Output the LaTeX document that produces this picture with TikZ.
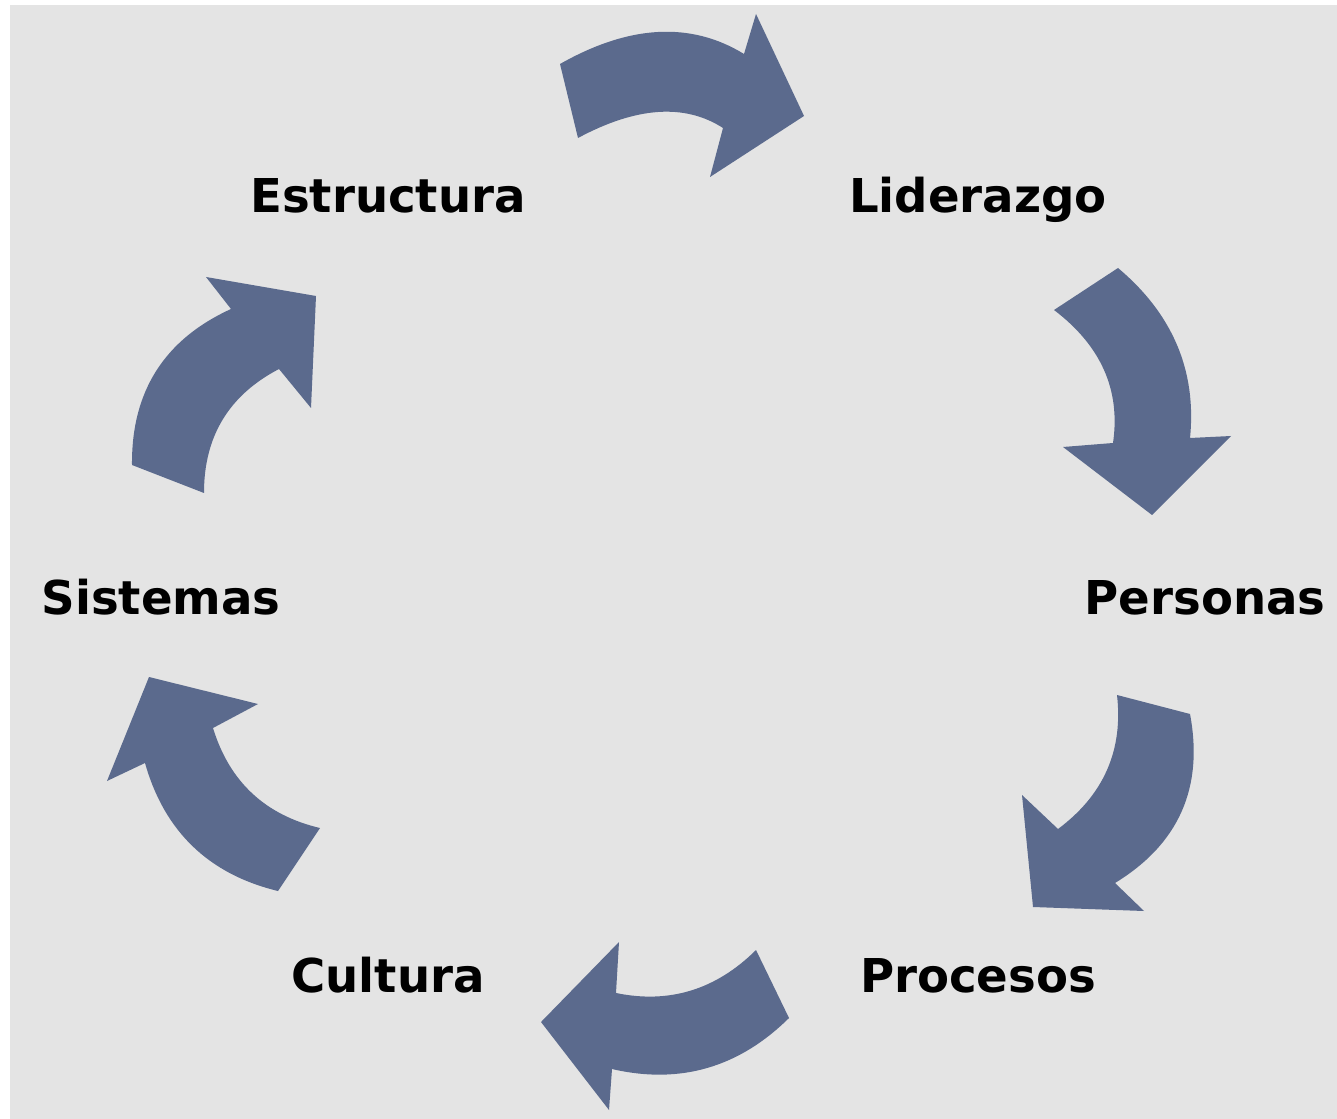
\documentclass[tikz,border=0pt]{standalone}
\usepackage{fontspec}
\setmainfont{DejaVu Sans}
\definecolor{panelgray}{RGB}{228,228,228}
\definecolor{arrowblue}{RGB}{91,106,141}

\begin{document}
\begin{tikzpicture}[x=0.01cm,y=-0.01cm,
	stage/.style={font=\bfseries\fontsize{13.26}{16}\selectfont,anchor=base,inner sep=0},
	turn/.style={fill=arrowblue}]

\useasboundingbox (0,0) rectangle (1337,1119);
\fill [panelgray] (10,5) rectangle (1337,1119);

\node [stage] (estructura) at (388,213) {Estructura};
\node [stage] (liderazgo) at (978,213) {Liderazgo};
\node [stage] (personas) at (1205,614) {Personas};
\node [stage] (procesos) at (978,992) {Procesos};
\node [stage] (cultura) at (388,992) {Cultura};
\node [stage] (sistemas) at (161,614) {Sistemas};

\fill [turn] (560,64) .. controls (629.3,24.7) and (690.7,21.3) .. (744,54)
	-- (756,14) -- (804,116) -- (710,177) -- (723,128)
	.. controls (684.7,103.3) and (636.3,106.7) .. (578,138) -- cycle;
\fill [turn] (1118,268) .. controls (1172.7,314) and (1196.7,370.7) .. (1190,438)
	-- (1231,436) -- (1152,515) -- (1063,447) -- (1113,443)
	.. controls (1120.7,390) and (1101,345.7) .. (1054,310) -- cycle;
\fill [turn] (1190,714) .. controls (1203.8,787.7) and (1178.8,844) .. (1115,883)
	-- (1144,911) -- (1033,907) -- (1022,795) -- (1058,829)
	.. controls (1103.7,795) and (1123.3,750.3) .. (1117,695) -- cycle;
\fill [turn] (789,1018) .. controls (738.7,1067.7) and (679.7,1084.7) .. (612,1069)
	-- (609,1110) -- (541,1022) -- (619,942) -- (616,993)
	.. controls (669.3,1004) and (716,989.7) .. (756,950) -- cycle;
\fill [turn] (278,891) .. controls (208.7,874.2) and (164.4,831.5) .. (145,763)
	-- (107,781) -- (149,677) -- (258,704) -- (213,728)
	.. controls (229.5,781.8) and (265.2,815.1) .. (320,828) -- cycle;
\fill [turn] (132,465) .. controls (131.3,391.5) and (164.3,339.5) .. (231,309)
	-- (206,277) -- (316,296) -- (311,408) -- (279,369)
	.. controls (228.9,395.1) and (203.9,436.5) .. (204,493) -- cycle;

\end{tikzpicture}
\end{document}
